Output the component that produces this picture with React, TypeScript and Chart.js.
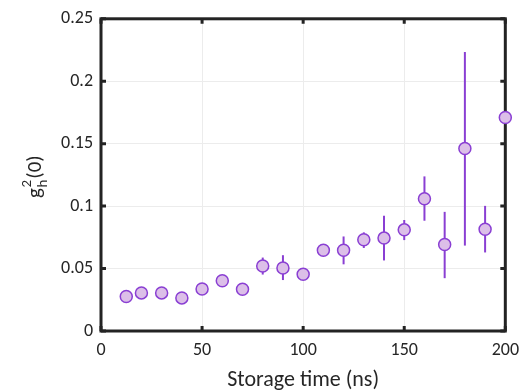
import React, { useEffect, useRef } from "react";
import { Chart, registerables } from "chart.js";

Chart.register(...registerables);

const storageTime = [12.5, 20, 30, 40, 50, 60, 70, 80, 90, 100, 110, 120, 130, 140, 150, 160, 170, 180, 190, 200];
const g2h = [0.0276, 0.0305, 0.0305, 0.0265, 0.0337, 0.0402, 0.0334, 0.052, 0.0505, 0.0455, 0.0647, 0.0647, 0.0731, 0.0744, 0.081, 0.1059, 0.0692, 0.1461, 0.0815, 0.1709];
const errLow = [null, null, null, null, null, null, null, 0.0452, 0.0408, null, null, 0.0534, 0.0665, 0.0565, 0.0728, 0.0883, 0.0423, 0.0684, 0.0629, null];
const errHigh = [null, null, null, null, null, null, null, 0.0588, 0.0607, null, null, 0.0757, 0.079, 0.0923, 0.0889, 0.1238, 0.0954, 0.2234, 0.1002, null];
const xTickValues = [0, 50, 100, 150, 200];
const xTickLabels = ["0", "50", "100", "150", "200"];
const yTickValues = [0, 0.05, 0.1, 0.15, 0.2, 0.25];
const yTickLabels = ["0", "0.05", "0.1", "0.15", "0.2", "0.25"];
const xTitle = "Storage time (ns)";

const FONT = "Carlito, Lato, sans-serif";
const TEXT = "#262626";
const FRAME = "#232323";
const PURPLE = "#8a3fd3";
const FILL = "#dcbfe8";

const framePlugin = {
  id: "frameAndErrors",
  beforeDatasetsDraw(chart: any) {
    const { ctx, chartArea: a, scales } = chart;
    const x = scales.x, y = scales.y;
    ctx.save();
    ctx.strokeStyle = FRAME;
    ctx.lineWidth = 3;
    ctx.strokeRect(a.left, a.top, a.right - a.left, a.bottom - a.top);
    const tl = 5;
    ctx.beginPath();
    yTickValues.forEach((v) => {
      const py = y.getPixelForValue(v);
      ctx.moveTo(a.left, py);
      ctx.lineTo(a.left + tl, py);
      ctx.moveTo(a.right, py);
      ctx.lineTo(a.right - tl, py);
    });
    xTickValues.forEach((v) => {
      const px = x.getPixelForValue(v);
      ctx.moveTo(px, a.bottom);
      ctx.lineTo(px, a.bottom - tl);
      ctx.moveTo(px, a.top);
      ctx.lineTo(px, a.top + tl);
    });
    ctx.stroke();
    ctx.strokeStyle = PURPLE;
    ctx.lineWidth = 2;
    storageTime.forEach((t, i) => {
      const lo = errLow[i];
      const hi = errHigh[i];
      if (lo == null || hi == null) return;
      const px = x.getPixelForValue(t);
      ctx.beginPath();
      ctx.moveTo(px, y.getPixelForValue(lo));
      ctx.lineTo(px, y.getPixelForValue(hi));
      ctx.stroke();
    });
    ctx.restore();
  },
  afterDraw(chart: any) {
    const { ctx } = chart;
    ctx.save();
    ctx.translate(41, 198);
    ctx.rotate(-Math.PI / 2);
    ctx.fillStyle = TEXT;
    ctx.textBaseline = "alphabetic";
    ctx.textAlign = "left";
    ctx.font = `21px ${FONT}`;
    ctx.fillText("g", 0, 0);
    const w = ctx.measureText("g").width;
    ctx.font = `15px ${FONT}`;
    ctx.fillText("2", w + 0.5, -10);
    ctx.fillText("h", w + 0.5, 6);
    const w2 = Math.max(ctx.measureText("2").width, ctx.measureText("h").width);
    ctx.font = `21px ${FONT}`;
    ctx.fillText("(0)", w + w2 + 1.5, 0);
    ctx.restore();
  },
};

export default function App() {
  const ref = useRef<HTMLCanvasElement>(null);
  useEffect(() => {
    if (!ref.current) return;
    const chart = new Chart(ref.current, {
      type: "scatter",
      data: {
        datasets: [
          {
            data: storageTime.map((t, i) => ({ x: t, y: g2h[i] })),
            pointRadius: 6,
            pointHoverRadius: 6,
            pointBackgroundColor: FILL,
            pointBorderColor: PURPLE,
            pointBorderWidth: 1.5,
            showLine: false,
            clip: false,
          } as any,
        ],
      },
      options: {
        animation: false,
        responsive: false,
        maintainAspectRatio: false,
        events: [],
        layout: { padding: { top: 13, right: 20, left: 0, bottom: 0 } },
        plugins: { legend: { display: false }, tooltip: { enabled: false } },
        scales: {
          x: {
            type: "linear",
            min: 0,
            max: 200,
            afterFit: (s: any) => {
              s.height = 60;
            },
            afterBuildTicks: (s: any) => {
              s.ticks = xTickValues.map((v) => ({ value: v }));
            },
            ticks: {
              callback: (v: any) => xTickLabels[xTickValues.indexOf(Number(v))] ?? "",
              color: TEXT,
              font: { family: FONT, size: 18 },
              padding: 9,
              maxRotation: 0,
            },
            grid: { color: "#ececec", lineWidth: 1, drawTicks: false },
            border: { display: false },
            title: {
              display: true,
              text: xTitle,
              color: TEXT,
              font: { family: FONT, size: 22, lineHeight: 1 },
              padding: { top: 0, bottom: 0 },
            },
          },
          y: {
            type: "linear",
            min: 0,
            max: 0.25,
            afterFit: (s: any) => {
              s.width = 101;
            },
            afterBuildTicks: (s: any) => {
              s.ticks = yTickValues.map((v) => ({ value: v }));
            },
            ticks: {
              callback: (v: any) => {
                const i = yTickValues.findIndex((t) => Math.abs(t - Number(v)) < 1e-9);
                return i >= 0 ? yTickLabels[i] : "";
              },
              color: TEXT,
              font: { family: FONT, size: 18 },
              padding: 8,
            },
            grid: { color: "#ececec", lineWidth: 1, drawTicks: false },
            border: { display: false },
          },
        },
      },
      plugins: [framePlugin],
    });
    return () => chart.destroy();
  }, []);
  return (
    <div style={{ position: "fixed", left: 0, top: 0, width: 528, height: 391, background: "#fff" }}>
      <canvas ref={ref} width={528} height={391} style={{ display: "block" }} />
    </div>
  );
}
